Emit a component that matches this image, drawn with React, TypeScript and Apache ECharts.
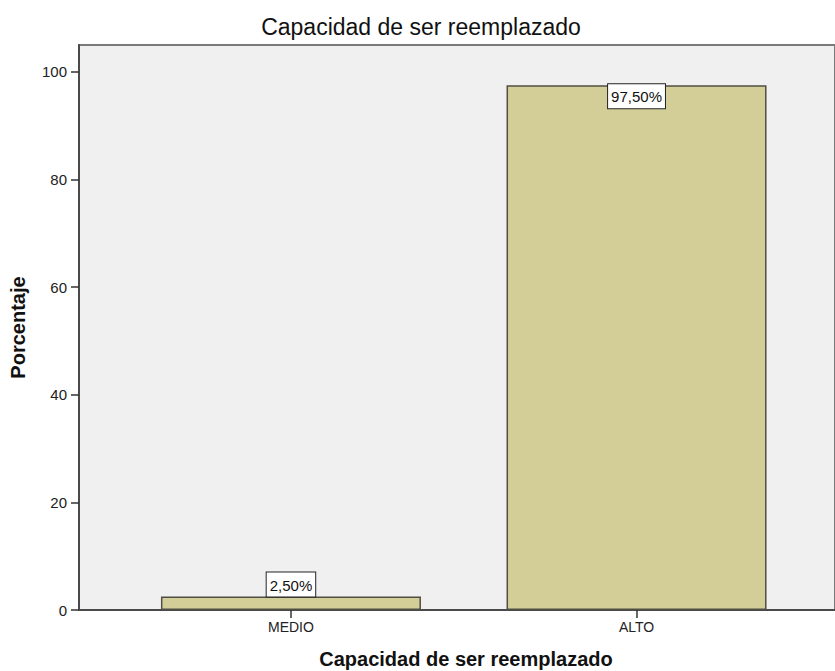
import React, { useEffect, useRef } from "react";
import * as echarts from "echarts";

const categories = ["MEDIO", "ALTO"];
const values = [2.5, 97.5];
const yTicks = [0, 20, 40, 60, 80, 100];
const titleText = "Capacidad de ser reemplazado";
const xTitle = "Capacidad de ser reemplazado";
const yTitle = "Porcentaje";

const FONT = "'Liberation Sans', Arial, sans-serif";

export default function App() {
  const ref = useRef<HTMLDivElement>(null);
  useEffect(() => {
    if (!ref.current) return;
    const chart = echarts.init(ref.current, null, { renderer: "svg" });
    const xPositions = categories.map((_, i) => i + 1);
    const data = categories.map((c, i) => ({
      value: [xPositions[i], values[i]],
      label:
        values[i] > 10
          ? { position: "insideTop", distance: -1 }
          : { position: "top", distance: 0 },
    }));
    chart.setOption({
      animation: false,
      backgroundColor: "#ffffff",
      title: [
        {
          text: titleText,
          left: 421,
          textAlign: "center",
          top: 15,
          padding: 0,
          textStyle: { fontFamily: FONT, fontSize: 23, fontWeight: "normal", color: "#111" },
        },
        {
          text: xTitle,
          left: 466,
          textAlign: "center",
          top: 649,
          padding: 0,
          textStyle: { fontFamily: FONT, fontSize: 20, fontWeight: "bold", color: "#111" },
        },
      ],
      grid: {
        left: 79,
        right: -2,
        top: 45,
        bottom: 61,
        show: true,
        backgroundColor: "#f0f0f0",
        borderColor: "#7a7a7a",
        borderWidth: 2,
      },
      xAxis: {
        type: "value",
        min: 0.3867,
        max: 2.5743,
        splitLine: { show: false },
        axisLine: { show: true, onZero: false, lineStyle: { color: "#4a4a4a", width: 2 } },
        axisTick: {
          show: true,
          length: 8,
          customValues: xPositions,
          lineStyle: { color: "#333", width: 1.5 },
        },
        axisLabel: {
          customValues: xPositions,
          margin: 10,
          fontFamily: FONT,
          fontSize: 14,
          color: "#222",
          formatter: (v: number) => categories[Math.round(v) - 1] ?? "",
        },
      },
      yAxis: {
        type: "value",
        min: 0,
        max: 105,
        name: yTitle,
        nameLocation: "middle",
        nameGap: 51,
        nameTextStyle: { fontFamily: FONT, fontSize: 20, fontWeight: "bold", color: "#111" },
        splitLine: { show: false },
        axisLine: { show: true, lineStyle: { color: "#4a4a4a", width: 2 } },
        axisTick: {
          show: true,
          length: 8,
          customValues: yTicks,
          lineStyle: { color: "#333", width: 1.5 },
        },
        axisLabel: {
          customValues: yTicks,
          margin: 12,
          fontFamily: FONT,
          fontSize: 15,
          color: "#222",
        },
      },
      series: [
        {
          type: "bar",
          barWidth: 260,
          data,
          itemStyle: { color: "#d3ce97", borderColor: "#4f4f45", borderWidth: 1.5 },
          label: {
            show: true,
            formatter: (p: any) => p.value[1].toFixed(2).replace(".", ",") + "%",
            fontFamily: FONT,
            fontSize: 15,
            color: "#111",
            backgroundColor: "#ffffff",
            borderColor: "#222",
            borderWidth: 1,
            padding: [5, 3, 4, 3],
          },
        },
      ],
    });
    return () => chart.dispose();
  }, []);
  return <div ref={ref} style={{ width: 835, height: 671, position: "absolute", left: 0, top: 0 }} />;
}
